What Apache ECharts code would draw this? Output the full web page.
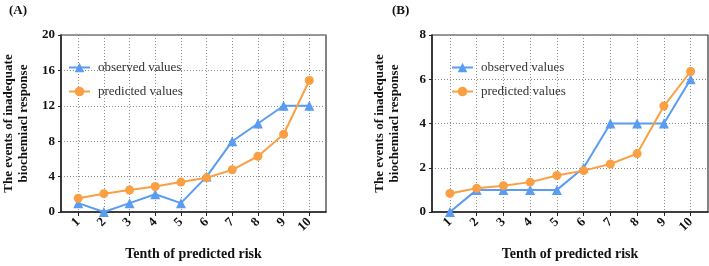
<!DOCTYPE html>
<html>
<head>
    <meta charset="utf-8">
    <title>observed vs predicted</title>
    <script src="https://cdn.jsdelivr.net/npm/echarts@6/dist/echarts.min.js"></script>
    <style>
        html, body { margin: 0; padding: 0; background: #fff; }
        #chart1 { width: 709px; height: 266px; }
    </style>
</head>
<body>
<div id="chart1"></div>
<script type="text/javascript">
    // 十分位
    let deciles = [1, 2, 3, 4, 5, 6, 7, 8, 9, 10]

    // (A)
    let observedA = [1, 0, 1, 2, 1, 4, 8, 10, 12, 12]
    let predictedA = [1.56, 2.07, 2.48, 2.88, 3.38, 3.86, 4.77, 6.3, 8.78, 14.86]
    let yTicksA = [0, 4, 8, 12, 16, 20]

    // (B)
    let observedB = [0, 1, 1, 1, 1, 2, 4, 4, 4, 6]
    let predictedB = [0.84, 1.07, 1.19, 1.35, 1.65, 1.87, 2.17, 2.64, 4.79, 6.35]
    let yTicksB = [0, 2, 4, 6, 8]

    let blue = '#5a9cf2'
    let orange = '#f9a044'
    let serif = '"Liberation Serif", "Times New Roman", serif'
    let gridDots = { color: '#8a8a8a', type: [1, 2], width: 1 }

    let pairs = function (ys) {
        return deciles.map(function (x, i) { return [x, ys[i]] })
    }

    let xAxisFor = function (gridIndex) {
        return {
            type: 'value', gridIndex: gridIndex, min: 0.33, max: 10.65,
            name: 'Tenth of predicted risk', nameLocation: 'middle', nameGap: 35,
            nameTextStyle: { fontFamily: serif, fontWeight: 'bold', fontSize: 14, color: '#111' },
            axisLine: { lineStyle: { color: '#222', width: 1.5 } },
            axisTick: { show: true, length: 4, customValues: deciles, lineStyle: { color: '#222' } },
            axisLabel: {
                customValues: deciles, rotate: 45, margin: 8,
                fontFamily: serif, fontWeight: 'bold', fontSize: 13, color: '#111'
            },
            splitLine: { show: true, lineStyle: gridDots }
        }
    }

    let yAxisFor = function (gridIndex, ticks) {
        return {
            type: 'value', gridIndex: gridIndex, min: ticks[0], max: ticks[ticks.length - 1],
            interval: ticks[1] - ticks[0],
            name: 'The events of inadequate\nbiochemiacl response', nameLocation: 'middle', nameGap: 30,
            nameTextStyle: { fontFamily: serif, fontWeight: 'bold', fontSize: 13, color: '#111', lineHeight: 15 },
            axisLine: { show: true, lineStyle: { color: '#222', width: 1.5 } },
            axisTick: { show: true, length: 3, lineStyle: { color: '#222' } },
            axisLabel: { margin: 6, fontFamily: serif, fontWeight: 'bold', fontSize: 13, color: '#111' },
            splitLine: { show: true, lineStyle: gridDots }
        }
    }

    let seriesFor = function (name, idx, data, color, symbol) {
        return {
            name: name, type: 'line', xAxisIndex: idx, yAxisIndex: idx,
            data: pairs(data), symbol: symbol, symbolSize: symbol === 'circle' ? 9 : 10,
            lineStyle: { color: color, width: 2 }, itemStyle: { color: color }
        }
    }

    let legendFor = function (left) {
        return {
            orient: 'vertical', left: left, top: 56, itemWidth: 21, itemHeight: 12, itemGap: 11,
            data: ['observed values', 'predicted values'],
            textStyle: { fontFamily: serif, fontSize: 13, color: '#333', padding: [0, 0, 0, 3] }
        }
    }

    let myChart1 = echarts.init(document.getElementById('chart1'))
    myChart1.setOption({
        animation: false,
        title: [
            { text: '(A)', left: 4, top: -1, textStyle: { fontFamily: serif, fontWeight: 'bold', fontSize: 13, color: '#111' } },
            { text: '(B)', left: 387, top: -1, textStyle: { fontFamily: serif, fontWeight: 'bold', fontSize: 13, color: '#111' } }
        ],
        legend: [legendFor(63), legendFor(446)],
        grid: [
            { left: 53, top: 35, width: 273, height: 182, show: true, borderColor: '#333', borderWidth: 1.2 },
            { left: 432, top: 35, width: 276, height: 182, show: true, borderColor: '#333', borderWidth: 1.2 }
        ],
        xAxis: [xAxisFor(0), xAxisFor(1)],
        yAxis: [yAxisFor(0, yTicksA), yAxisFor(1, yTicksB)],
        series: [
            seriesFor('observed values', 0, observedA, blue, 'triangle'),
            seriesFor('predicted values', 0, predictedA, orange, 'circle'),
            seriesFor('observed values', 1, observedB, blue, 'triangle'),
            seriesFor('predicted values', 1, predictedB, orange, 'circle')
        ]
    })
</script>
</body>
</html>
